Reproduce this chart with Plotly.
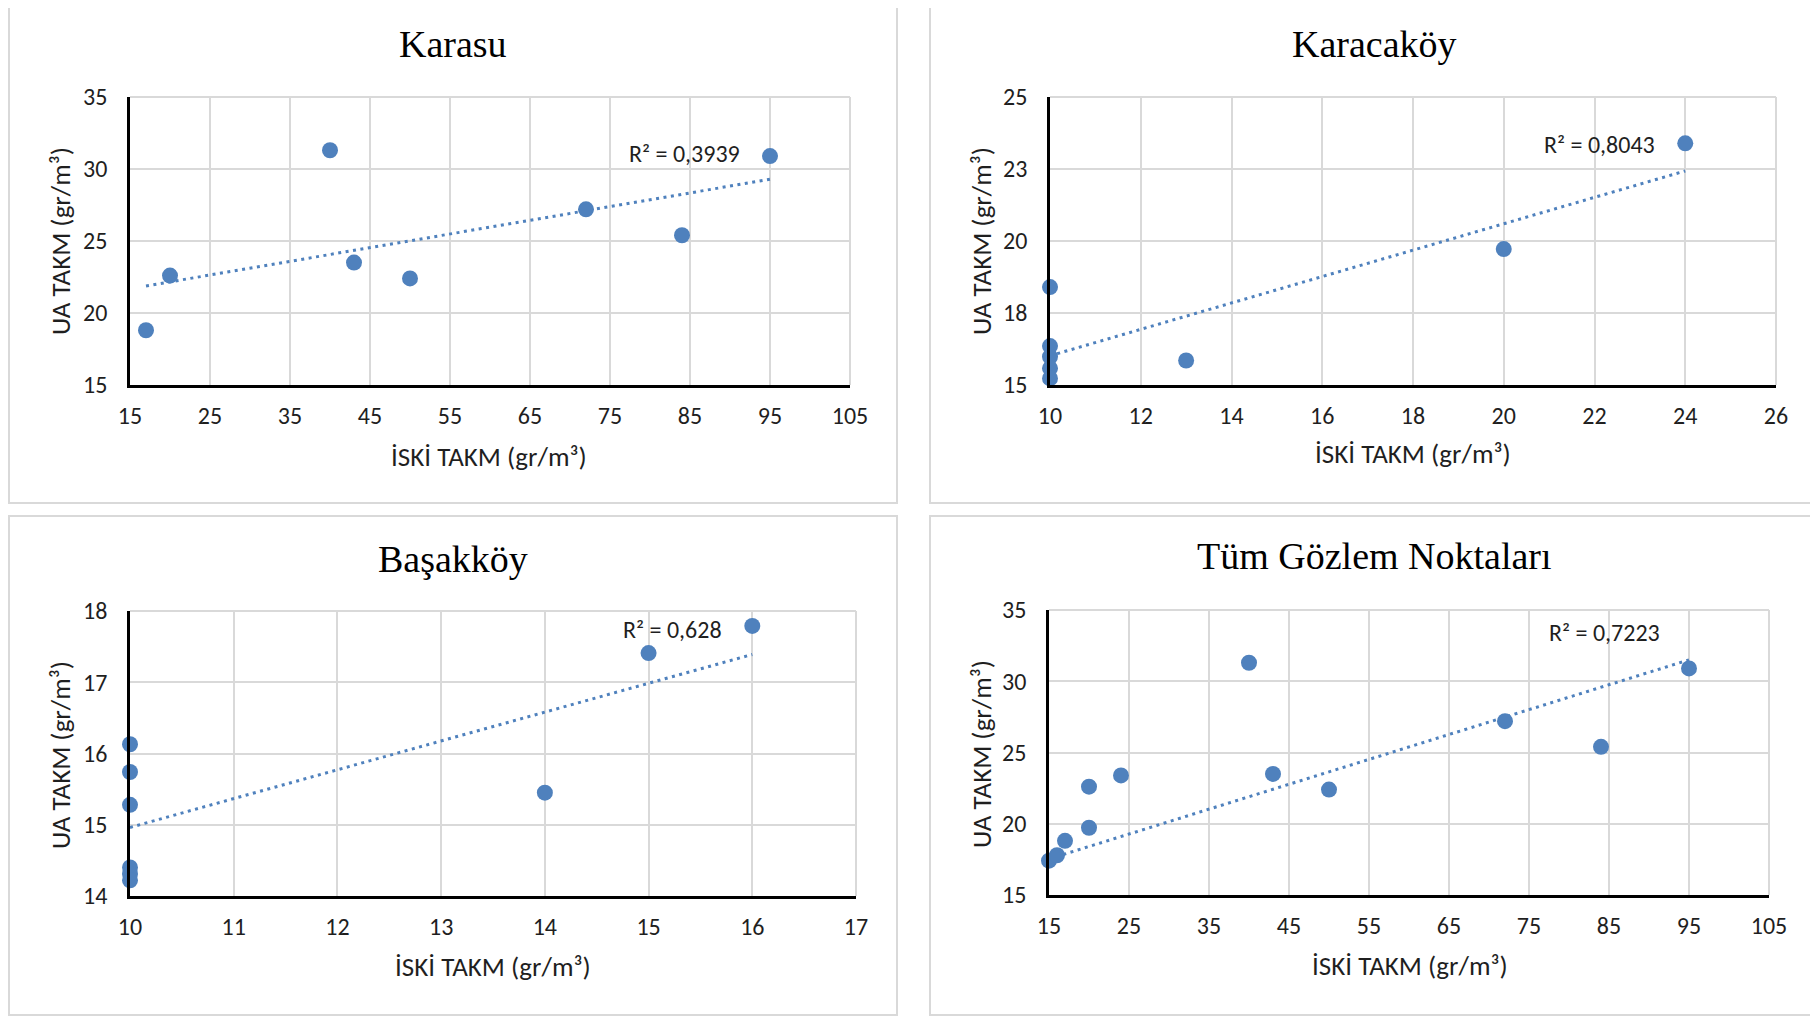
import numpy as np
import plotly.graph_objects as go

# ---------------- data ----------------
karasu_x = [17, 20, 40, 43, 50, 72, 84, 95]
karasu_y = [18.8, 22.6, 31.3, 23.5, 22.4, 27.2, 25.4, 30.9]

karacakoy_x = [10, 10, 10, 10, 10, 13, 20, 24]
karacakoy_y = [18.4, 16.35, 15.98, 15.58, 15.23, 15.85, 19.72, 23.39]

basakkoy_x = [10, 10, 10, 10, 10, 10, 14, 15, 16]
basakkoy_y = [16.13, 15.74, 15.28, 14.40, 14.31, 14.22, 15.45, 17.41, 17.79]

# "Tüm Gözlem Noktaları" = all observation points together
tum_x = karasu_x + karacakoy_x + basakkoy_x
tum_y = karasu_y + karacakoy_y + basakkoy_y

titles = ["Karasu", "Karacaköy", "Başakköy", "Tüm Gözlem Noktaları"]
r2_labels = ["R² = 0,3939", "R² = 0,8043", "R² = 0,628", "R² = 0,7223"]

x_ticks_karasu = [15, 25, 35, 45, 55, 65, 75, 85, 95, 105]
y_ticks_karasu = [15, 20, 25, 30, 35]
x_ticks_karacakoy = [10, 12, 14, 16, 18, 20, 22, 24, 26]
y_ticks_karacakoy = [15, 17.5, 20, 22.5, 25]
y_ticktext_karacakoy = ["15", "18", "20", "23", "25"]
x_ticks_basakkoy = [10, 11, 12, 13, 14, 15, 16, 17]
y_ticks_basakkoy = [14, 15, 16, 17, 18]
x_ticks_tum = [15, 25, 35, 45, 55, 65, 75, 85, 95, 105]
y_ticks_tum = [15, 20, 25, 30, 35]

x_title = "İSKİ TAKM (gr/m³)"
y_title = "UA TAKM (gr/m³)"

# ---------------- styling ----------------
OFF = 8                      # page body margin
W, H = 1818 - OFF, 1016 - OFF
BLUE = "#4F81BD"
GRID = "#d9d9d9"
TXT = "#1f1f1f"
FONT = "Carlito, Calibri, Lato, 'Open Sans', sans-serif"
TFONT = "'Liberation Serif', 'Times New Roman', serif"


def px(x):
    return (x - OFF) / W


def py(y):
    return 1 - (y - OFF) / H


panels = [
    dict(x=karasu_x, y=karasu_y, xt=x_ticks_karasu, yt=y_ticks_karasu, ytt=None,
         plot=(130, 850, 97, 385), frame=(9, 897, 2, 503),
         title=(453, 44), xtitle=(489, 456), ytitle=(60, 241), r2=(84.3, 31.05)),
    dict(x=karacakoy_x, y=karacakoy_y, xt=x_ticks_karacakoy, yt=y_ticks_karacakoy,
         ytt=y_ticktext_karacakoy,
         plot=(1050, 1776, 97, 385), frame=(930, 1817, 2, 503),
         title=(1374, 44), xtitle=(1413, 453), ytitle=(981, 241), r2=(22.1, 23.35)),
    dict(x=basakkoy_x, y=basakkoy_y, xt=x_ticks_basakkoy, yt=y_ticks_basakkoy, ytt=None,
         plot=(130, 856, 611, 896), frame=(9, 897, 516, 1015),
         title=(453, 559), xtitle=(493, 966), ytitle=(60, 755), r2=(15.23, 17.74)),
    dict(x=tum_x, y=tum_y, xt=x_ticks_tum, yt=y_ticks_tum, ytt=None,
         plot=(1049, 1769, 610, 895), frame=(930, 1817, 516, 1015),
         title=(1374, 556), xtitle=(1410, 965), ytitle=(981, 754), r2=(84.4, 33.4)),
]

fig = go.Figure()
annotations = []
shapes = []

for i, p in enumerate(panels):
    n = "" if i == 0 else str(i + 1)
    xa, ya = "x" + n, "y" + n
    xs = np.array(p["x"], dtype=float)
    ys = np.array(p["y"], dtype=float)
    xmin_ax, xmax_ax = p["xt"][0], p["xt"][-1]

    # linear least-squares trendline over all points, shown inside the axis range
    slope, intercept = np.polyfit(xs, ys, 1)
    tx = np.array([max(xs.min(), xmin_ax), min(xs.max(), xmax_ax)])
    ty = slope * tx + intercept
    fig.add_trace(go.Scatter(x=tx, y=ty, mode="lines", xaxis=xa, yaxis=ya,
                             line=dict(color=BLUE, width=3, dash="3px,4.5px"),
                             showlegend=False, hoverinfo="skip"))

    # markers (points outside the visible x range are not shown)
    vis = (xs >= xmin_ax) & (xs <= xmax_ax)
    fig.add_trace(go.Scatter(x=xs[vis], y=ys[vis], mode="markers", xaxis=xa, yaxis=ya,
                             marker=dict(color=BLUE, size=16),
                             showlegend=False, cliponaxis=False))

    x0, x1, y0, y1 = p["plot"]
    common = dict(showgrid=True, gridcolor=GRID, gridwidth=2,
                  showline=True, linecolor="black", linewidth=2.5,
                  zeroline=False, ticks="", automargin=False,
                  tickfont=dict(family=FONT, size=24, color=TXT),
                  fixedrange=True)
    xaxis = dict(domain=[px(x0), px(x1)], range=[xmin_ax, xmax_ax],
                 tickvals=p["xt"], anchor=ya, ticklabelstandoff=7, **common)
    yaxis = dict(domain=[py(y1), py(y0)], range=[p["yt"][0], p["yt"][-1]],
                 tickvals=p["yt"], anchor=xa, ticklabelstandoff=15, **common)
    if p["ytt"] is not None:
        yaxis["ticktext"] = p["ytt"]
    fig.update_layout(**{"xaxis" + n: xaxis, "yaxis" + n: yaxis})

    # top/right plot-area border drawn as light gridlines
    shapes.append(dict(type="line", xref="paper", yref="paper",
                       x0=px(x0), x1=px(x1), y0=py(y0), y1=py(y0),
                       line=dict(color=GRID, width=2), layer="below"))
    shapes.append(dict(type="line", xref="paper", yref="paper",
                       x0=px(x1), x1=px(x1), y0=py(y0), y1=py(y1),
                       line=dict(color=GRID, width=2), layer="below"))

    # panel frame
    fx0, fx1, fy0, fy1 = p["frame"]
    shapes.append(dict(type="rect", xref="paper", yref="paper",
                       x0=px(fx0), x1=px(fx1), y0=py(fy1), y1=py(fy0),
                       line=dict(color=GRID, width=2), layer="below"))

    annotations.append(dict(text=titles[i], xref="paper", yref="paper",
                            x=px(p["title"][0]), y=py(p["title"][1]),
                            xanchor="center", yanchor="middle", showarrow=False,
                            font=dict(family=TFONT, size=38, color="black")))
    annotations.append(dict(text=x_title, xref="paper", yref="paper",
                            x=px(p["xtitle"][0]), y=py(p["xtitle"][1]),
                            xanchor="center", yanchor="middle", showarrow=False,
                            font=dict(family=FONT, size=27, color=TXT)))
    annotations.append(dict(text=y_title, xref="paper", yref="paper",
                            x=px(p["ytitle"][0]), y=py(p["ytitle"][1]),
                            xanchor="center", yanchor="middle", showarrow=False,
                            textangle=-90,
                            font=dict(family=FONT, size=27, color=TXT)))
    annotations.append(dict(text=r2_labels[i], xref=xa, yref=ya,
                            x=p["r2"][0], y=p["r2"][1],
                            xanchor="center", yanchor="middle", showarrow=False,
                            font=dict(family=FONT, size=24, color=TXT)))

fig.update_layout(width=W, height=H, margin=dict(l=0, r=0, t=0, b=0, pad=0),
                  paper_bgcolor="white", plot_bgcolor="white",
                  annotations=annotations, shapes=shapes, showlegend=False)

fig.write_html("out.html", config={"displayModeBar": False})
